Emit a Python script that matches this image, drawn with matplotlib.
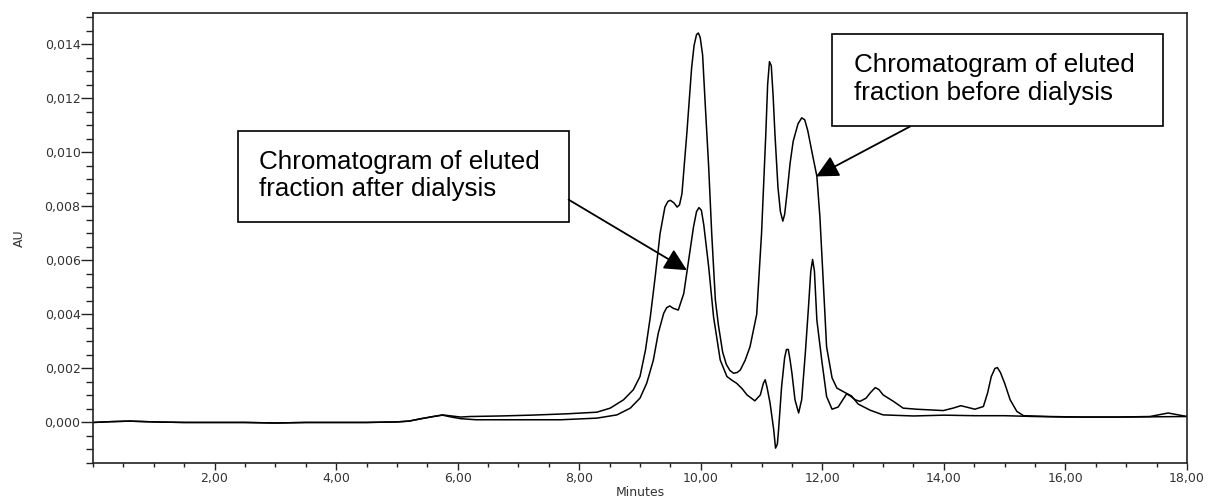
import matplotlib
matplotlib.use("Agg")
import matplotlib.pyplot as plt
from matplotlib.patches import Rectangle
from matplotlib.ticker import MultipleLocator, FuncFormatter

# ---------------- data ----------------
t_before = [0.0, 0.3, 0.6, 1.0, 1.5, 2.0, 2.5, 3.0, 3.5, 4.0, 4.5, 5.0, 5.2, 5.4, 5.6, 5.75,
            5.9, 6.05, 6.2, 6.7, 7.2, 7.8, 8.29, 8.51, 8.73, 8.89, 9.0, 9.09, 9.17, 9.25,
            9.33, 9.41, 9.46, 9.50, 9.56, 9.61, 9.65, 9.69, 9.77, 9.85, 9.89, 9.93, 9.96,
            9.99, 10.03, 10.07, 10.13, 10.18, 10.24, 10.29, 10.36, 10.42, 10.48, 10.54,
            10.6, 10.65, 10.73, 10.81, 10.92, 11.0, 11.07, 11.10, 11.13, 11.16, 11.19,
            11.22, 11.27, 11.31, 11.35, 11.38, 11.42, 11.47, 11.52, 11.6, 11.66, 11.71,
            11.76, 11.83, 11.91, 11.96, 12.02, 12.07, 12.16, 12.24, 12.37, 12.48, 12.59,
            12.79, 13.0, 13.5, 14.0, 14.5, 15.0, 15.5, 16.0, 16.5, 17.0, 17.5, 18.0]
au_before = [0.0, 0.00003, 0.00005, 0.00002, 0.0, 0.0, 0.0, -0.00002, 0.0, 0.0, 0.0, 0.00002,
             0.00005, 0.00014, 0.00022, 0.00028, 0.00024, 0.0002, 0.00022, 0.00024, 0.00027,
             0.00032, 0.00038, 0.00053, 0.00084, 0.00121, 0.0017, 0.00268, 0.00391, 0.00539,
             0.00699, 0.00797, 0.00818, 0.00822, 0.00812, 0.00797, 0.00805, 0.00846, 0.01068,
             0.01314, 0.01395, 0.01435, 0.01441, 0.01425, 0.01360, 0.01191, 0.00945, 0.00699,
             0.00453, 0.0036, 0.0026, 0.00215, 0.00192, 0.00182, 0.00185, 0.00194, 0.0023,
             0.0028, 0.0040, 0.0070, 0.01068, 0.0125, 0.01335, 0.01320, 0.01210, 0.01068,
             0.00870, 0.00780, 0.00745, 0.00770, 0.00850, 0.00960, 0.01040, 0.01105, 0.01127,
             0.01120, 0.0108, 0.01000, 0.00911, 0.0076, 0.0050, 0.0028, 0.00165, 0.00127,
             0.00111, 0.00098, 0.00068, 0.00045, 0.00028, 0.00024, 0.00027, 0.00025, 0.00025,
             0.00022, 0.0002, 0.0002, 0.0002, 0.00021, 0.00022]

t_after = [0.0, 0.3, 0.6, 1.0, 1.5, 2.0, 2.5, 3.0, 3.5, 4.0, 4.5, 5.0, 5.2, 5.4, 5.6, 5.75,
           5.9, 6.05, 6.3, 7.0, 7.7, 8.29, 8.62, 8.84, 9.0, 9.11, 9.22, 9.30, 9.39, 9.44,
           9.49, 9.55, 9.63, 9.72, 9.80, 9.88, 9.93, 9.97, 10.01, 10.05, 10.13, 10.21, 10.32,
           10.43, 10.52, 10.59, 10.68, 10.76, 10.89, 10.98, 11.03, 11.06, 11.09, 11.14,
           11.2, 11.23, 11.26, 11.28, 11.33, 11.38, 11.41, 11.44, 11.47, 11.5, 11.55, 11.61,
           11.66, 11.72, 11.77, 11.81, 11.84, 11.87, 11.91, 11.99, 12.07, 12.16, 12.26,
           12.34, 12.40, 12.46, 12.54, 12.62, 12.72, 12.79, 12.87, 12.93, 13.0, 13.17, 13.33,
           13.55, 13.99, 14.15, 14.28, 14.37, 14.51, 14.65, 14.72, 14.78, 14.84, 14.88,
           14.93, 15.0, 15.09, 15.2, 15.31, 15.74, 16.3, 16.84, 17.39, 17.69, 18.0]
au_after = [0.0, 0.00003, 0.00005, 0.00002, 0.0, 0.0, 0.0, -0.00002, 0.0, 0.0, 0.0, 0.00002,
            0.00005, 0.00014, 0.00022, 0.00027, 0.0002, 0.00014, 0.0001, 0.0001, 0.0001,
            0.00016, 0.00028, 0.00053, 0.0009, 0.00145, 0.00231, 0.0033, 0.00404, 0.00425,
            0.00431, 0.00422, 0.00416, 0.00477, 0.0060, 0.00723, 0.00780, 0.00795, 0.00785,
            0.00730, 0.00576, 0.00391, 0.00231, 0.0017, 0.00155, 0.00145, 0.00125, 0.00102,
            0.0008, 0.00102, 0.00145, 0.00158, 0.00130, 0.00072, -0.00027, -0.00095, -0.00080,
            -0.00027, 0.00133, 0.0024, 0.00270, 0.00270, 0.0023, 0.00182, 0.00084, 0.00035,
            0.00084, 0.00256, 0.0042, 0.00560, 0.00603, 0.00560, 0.00379, 0.00231, 0.00096,
            0.00049, 0.00057, 0.00085, 0.00106, 0.00098, 0.00084, 0.00078, 0.00090, 0.00110,
            0.00129, 0.00122, 0.00102, 0.00078, 0.00053, 0.00049, 0.00044, 0.00053, 0.00062,
            0.00057, 0.00049, 0.00059, 0.00110, 0.00170, 0.00200, 0.00203, 0.00185, 0.00145,
            0.00084, 0.00041, 0.00025, 0.00022, 0.0002, 0.0002, 0.00022, 0.00035, 0.00022]

x_major = [2, 4, 6, 8, 10, 12, 14, 16, 18]
y_major = [0.0, 0.002, 0.004, 0.006, 0.008, 0.010, 0.012, 0.014]

label_after = "Chromatogram of eluted\nfraction after dialysis"
label_before = "Chromatogram of eluted\nfraction before dialysis"

# ---------------- figure ----------------
fig = plt.figure(figsize=(12.12, 4.98), dpi=100)
ax = fig.add_axes([93 / 1212, 35 / 498, 1094 / 1212, 450 / 498])

ax.plot(t_before, au_before, color="black", lw=1.1)
ax.plot(t_after, au_after, color="black", lw=1.1)

ax.set_xlim(0, 18)
ax.set_ylim(-0.0015, 0.01515)

ax.set_xticks(x_major)
ax.xaxis.set_minor_locator(MultipleLocator(0.5))
ax.set_yticks(y_major)
ax.yaxis.set_minor_locator(MultipleLocator(0.0005))
ax.xaxis.set_major_formatter(FuncFormatter(lambda v, p: f"{v:.2f}".replace(".", ",")))
ax.yaxis.set_major_formatter(FuncFormatter(lambda v, p: f"{v:.3f}".replace(".", ",").replace("-", "")))

tick_font = dict(family="DejaVu Sans", size=9)
ax.tick_params(axis="x", which="major", direction="out", length=5, width=1.0,
               labelsize=9, labelcolor="#333333", pad=1.5, color="#222222")
ax.tick_params(axis="x", which="minor", direction="out", length=3, width=1.0, color="#222222")
ax.tick_params(axis="y", which="major", direction="out", length=8.5, width=1.0,
               labelsize=9, labelcolor="#333333", pad=0.5, color="#222222")
ax.tick_params(axis="y", which="minor", direction="out", length=5, width=1.0, color="#222222")
for lab in ax.get_xticklabels() + ax.get_yticklabels():
    lab.set_fontfamily("DejaVu Sans")

for s in ax.spines.values():
    s.set_linewidth(1.2)
    s.set_color("#222222")

ax.set_xlabel("Minutes", fontdict=tick_font, color="#333333")
ax.set_ylabel("AU", fontdict=tick_font, color="#333333")
ax.xaxis.set_label_coords(0.5, -0.052)
ax.yaxis.set_label_coords(-0.061, 0.5)

# ---------------- annotation boxes ----------------
box_font = dict(family="Liberation Sans", size=18.7, color="black")

ax.add_patch(Rectangle((2.384, 0.007417), 7.825 - 2.384, 0.010801 - 0.007417,
                       facecolor="white", edgecolor="black", lw=1.2, zorder=3))
ax.text(2.729, 0.00914, label_after, ha="left", va="center", zorder=4, **box_font)

ax.add_patch(Rectangle((12.165, 0.010985), 17.607 - 12.165, 0.014369 - 0.010985,
                       facecolor="white", edgecolor="black", lw=1.2, zorder=3))
ax.text(12.527, 0.01271, label_before, ha="left", va="center", zorder=4, **box_font)

arrow = dict(arrowstyle="-|>", mutation_scale=34, lw=1.3, color="black",
             shrinkA=0, shrinkB=0)
ax.annotate("", xy=(9.772, 0.005635), xytext=(7.825, 0.008244), arrowprops=arrow, zorder=5)
ax.annotate("", xy=(11.897, 0.009103), xytext=(13.443, 0.010950), arrowprops=arrow, zorder=5)

fig.savefig("out.png", dpi=100)
